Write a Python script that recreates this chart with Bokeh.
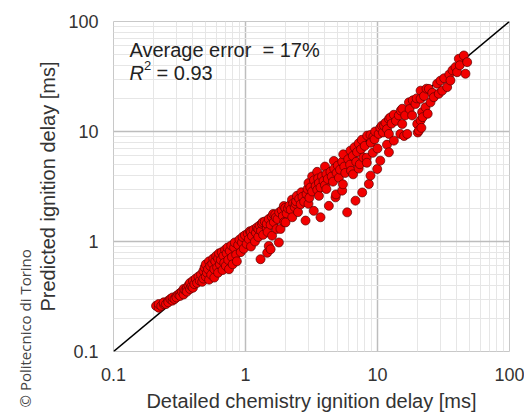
import math
from bokeh.plotting import figure
from bokeh.models import FixedTicker, CustomJSTickFormatter, Label, ColumnDataSource, Title
from bokeh.embed import file_html
from bokeh.resources import INLINE

# ---- data (detailed chemistry delay [ms], predicted delay [ms]) ----
seg_a = [(0.21,0.26),(0.22,0.25),(0.22,0.27),(0.23,0.26),(0.24,0.27),(0.24,0.28),(0.25,0.27),
         (0.26,0.29),(0.26,0.28),(0.27,0.30),(0.28,0.29),(0.28,0.31),(0.29,0.30),(0.30,0.32),
         (0.30,0.31),(0.31,0.33),(0.32,0.34),(0.32,0.32),(0.33,0.35),(0.34,0.33),(0.34,0.37),
         (0.35,0.36),(0.36,0.38),(0.36,0.35),(0.37,0.40),(0.38,0.37),(0.38,0.42),(0.39,0.39),
         (0.40,0.44),(0.40,0.38),(0.41,0.41),(0.42,0.46),(0.43,0.42),(0.44,0.48),(0.45,0.44)]
seg_b = [(0.46,0.50),(0.47,0.43),(0.48,0.54),(0.48,0.46),(0.49,0.58),(0.50,0.48),(0.50,0.62),
         (0.51,0.52),(0.52,0.56),(0.53,0.45),(0.53,0.66),(0.54,0.60),(0.55,0.50),(0.56,0.63),
         (0.57,0.70),(0.58,0.47),(0.58,0.56),(0.59,0.66),(0.60,0.74),(0.61,0.58),(0.62,0.52),
         (0.62,0.70),(0.63,0.78),(0.64,0.62),(0.65,0.68),(0.66,0.80),(0.67,0.55),(0.68,0.74),
         (0.69,0.64),(0.70,0.84),(0.71,0.60),(0.72,0.78),(0.73,0.88),(0.74,0.68),(0.75,0.56),
         (0.76,0.82),(0.78,0.92),(0.79,0.72),(0.80,0.62),(0.82,0.88),(0.83,0.98),(0.85,0.76),
         (0.86,0.66),(0.88,0.93),(0.90,1.04),(0.92,0.80),(0.94,0.98),(0.95,1.10),(0.97,0.86),
         (0.99,1.14)]
seg_c = [(1.02,0.95),(1.04,1.18),(1.06,1.05),(1.08,1.24),(1.10,0.90),(1.10,1.22),(1.12,1.12),
         (1.15,1.28),(1.18,1.00),(1.20,1.20),(1.22,1.34),(1.25,1.10),(1.25,1.30),(1.28,1.40),
         (1.30,0.69),(1.31,1.25),(1.33,1.45),(1.35,1.50),(1.36,1.15),(1.40,1.52),(1.45,1.32),
         (1.45,1.45),(1.46,0.79),(1.47,1.22),(1.50,1.60),(1.50,0.91),(1.55,1.42),(1.55,0.85),
         (1.58,1.68),(1.59,1.13),(1.62,1.78),(1.64,1.50),(1.68,1.76),(1.70,1.65),(1.72,1.30),
         (1.75,1.60),(1.79,0.98),(1.80,1.84),(1.84,1.30),(1.88,1.92),(1.92,1.70),(1.95,2.10),
         (1.96,1.50),(2.00,2.02),(2.01,1.49),(2.05,1.80),(2.10,2.00),(2.15,2.12),(2.20,1.95),
         (2.25,2.40),(2.26,1.66),(2.30,2.22),(2.36,2.05),(2.40,2.20),(2.42,2.32),(2.45,2.60),
         (2.50,1.85),(2.55,2.45),(2.62,2.18),(2.65,2.80),(2.70,2.55),(2.78,2.30),(2.85,1.55)]
seg_d = [(2.90,2.70),(2.95,3.00),(3.00,3.40),(3.00,2.20),(3.05,2.50),(3.10,3.10),(3.20,2.85),
         (3.20,3.90),(3.29,1.90),(3.30,3.60),(3.40,3.20),(3.49,4.30),(3.50,2.95),(3.55,3.75),
         (3.60,3.40),(3.60,2.60),(3.70,1.66),(3.70,3.10),(3.80,3.90),(3.90,3.55),(4.00,3.25),
         (4.00,4.80),(4.10,4.10),(4.10,3.00),(4.20,3.70),(4.28,2.11),(4.40,4.30),(4.50,3.90),
         (4.60,3.50),(4.67,5.40),(4.70,4.60),(4.81,2.52),(4.85,2.68),(4.90,4.20),(5.00,4.90),
         (5.10,3.80),(5.20,4.50),(5.40,2.90),(5.40,5.30),(5.47,3.31),(5.50,6.20),(5.60,4.80),
         (5.70,4.20),(5.89,1.84),(6.00,5.60),(6.20,5.00),(6.24,6.70),(6.30,4.40),(6.50,6.00),
         (6.53,4.08),(6.70,7.20),(6.81,2.35),(6.90,5.30),(7.00,6.50),(7.20,4.60),(7.20,7.80),
         (7.35,5.04),(7.50,6.90),(7.60,8.40),(7.66,2.79),(7.80,5.80),(8.00,7.40),(8.28,5.78),
         (8.30,5.20),(8.35,9.18),(8.60,3.33),(8.85,3.97),(8.85,9.30),(8.90,7.90),(9.20,6.40),
         (9.30,9.00),(9.50,8.50),(9.60,10.0),(9.95,4.56),(10.0,7.00)]
seg_e = [(10.2,9.5),(10.5,10.8),(10.5,5.43),(10.8,11.3),(11.0,9.8),(11.2,11.3),(11.5,12.0),
         (11.8,10.5),(11.8,7.6),(12.2,13.0),(12.2,6.47),(12.2,9.5),(12.5,13.4),(12.8,11.8),
         (13.3,8.26),(13.3,14.2),(13.8,12.5),(14.5,14.0),(14.9,9.5),(15.0,15.5),(15.4,16.1),
         (15.4,11.7),(15.9,9.1),(16.2,14.0),(16.8,9.5),(17.3,18.4),(17.5,16.0),(18.3,14.0),
         (18.5,19.2),(19.4,17.8),(19.8,20.0),(20.0,11.7),(20.2,9.8),(20.6,10.2),(21.2,23.5),
         (21.2,19.8),(21.2,12.6),(21.5,10.8),(21.8,15.0),(22.0,13.5),(22.5,21.0),(23.1,16.6),
         (23.5,24.5),(24.0,14.5),(24.5,24.4),(25.2,18.4),(26.0,22.5),(26.7,20.5),(28.3,27.2),
         (29.1,22.0),(30.0,29.0),(30.9,23.5),(32.0,30.5),(33.7,25.3),(35.0,33.0),(35.7,29.1),
         (37.0,36.0),(39.0,38.5),(40.1,34.6),(41.3,45.8),(42.0,40.0),(45.1,49.1),(46.4,33.5),
         (47.8,42.7)]

parity_line = [0.1, 100]
major_ticks = [0.1, 1, 10, 100]
minor_ticks = [0.2, 0.3, 0.4, 0.5, 0.6, 0.7, 0.8, 0.9,
               2, 3, 4, 5, 6, 7, 8, 9,
               20, 30, 40, 50, 60, 70, 80, 90]

pts = seg_a + seg_b + seg_c + seg_d + seg_e
src = ColumnDataSource(dict(x=[p[0] for p in pts], y=[p[1] for p in pts]))

FONT = "Liberation Sans"
TXT = "#333333"

p = figure(x_axis_type="log", y_axis_type="log",
           x_range=(0.1, 100), y_range=(0.1, 100),
           frame_width=396, frame_height=330,
           min_border_left=113, min_border_right=15, min_border_top=21, min_border_bottom=60,
           output_backend="svg", toolbar_location=None,
           background_fill_color="white", border_fill_color="white")
p.outline_line_color = "#c8c8c8"
p.outline_line_width = 1

tk = FixedTicker(ticks=major_ticks, minor_ticks=minor_ticks)
fmt = CustomJSTickFormatter(code="return tick < 1 ? tick.toFixed(1) : tick.toFixed(0);")
for ax in (p.xaxis[0], p.yaxis[0]):
    ax.ticker = tk
    ax.formatter = fmt
    ax.axis_line_color = None
    ax.major_tick_line_color = None
    ax.minor_tick_line_color = None
    ax.major_tick_in = 0
    ax.major_tick_out = 0
    ax.minor_tick_in = 0
    ax.minor_tick_out = 0
    ax.major_label_text_font = FONT
    ax.major_label_text_font_size = "18px"
    ax.major_label_text_color = TXT
    ax.axis_label_text_font = FONT
    ax.axis_label_text_font_size = "20px"
    ax.axis_label_text_font_style = "normal"
    ax.axis_label_text_color = TXT

p.xaxis.axis_label = "Detailed chemistry ignition delay [ms]"
p.yaxis.axis_label = "Predicted ignition delay [ms]"
p.xaxis.major_label_standoff = 16
p.xaxis.axis_label_standoff = 6
p.yaxis.major_label_standoff = 15
p.yaxis.axis_label_standoff = 6

for g in (p.xgrid[0], p.ygrid[0]):
    g.grid_line_color = "#bdbdbd"
    g.grid_line_width = 1.5
    g.minor_grid_line_color = "#e6e6e6"
    g.minor_grid_line_width = 1

p.line(x=parity_line, y=parity_line, line_color="black", line_width=1.6)
p.scatter(x="x", y="y", source=src, size=9, marker="circle",
          fill_color="#f20000", line_color="#5a0000", line_width=0.7)

NB = "\u00a0"
p.add_layout(Label(x=0.132, y=54.6, text="Average error" + NB + NB + "= 17%", text_font=FONT,
                   text_font_size="20px", text_color="#222222", text_baseline="alphabetic"))
p.add_layout(Label(x=0.132, y=33.7, text="R", text_font=FONT, text_font_style="italic",
                   text_font_size="20px", text_color="#222222", text_baseline="alphabetic"))
p.add_layout(Label(x=0.170, y=39.8, text="2", text_font=FONT,
                   text_font_size="13px", text_color="#222222", text_baseline="alphabetic"))
p.add_layout(Label(x=0.212, y=33.7, text="= 0.93", text_font=FONT,
                   text_font_size="20px", text_color="#222222", text_baseline="alphabetic"))

p.add_layout(Title(text="\u00a9 Politecnico di Torino", align="left", offset=-56,
                   text_font="Open Sans", text_font_size="15px", text_font_style="normal",
                   text_color="#444444", standoff=0), "left")

open("out.html", "w").write(file_html(p, INLINE))
